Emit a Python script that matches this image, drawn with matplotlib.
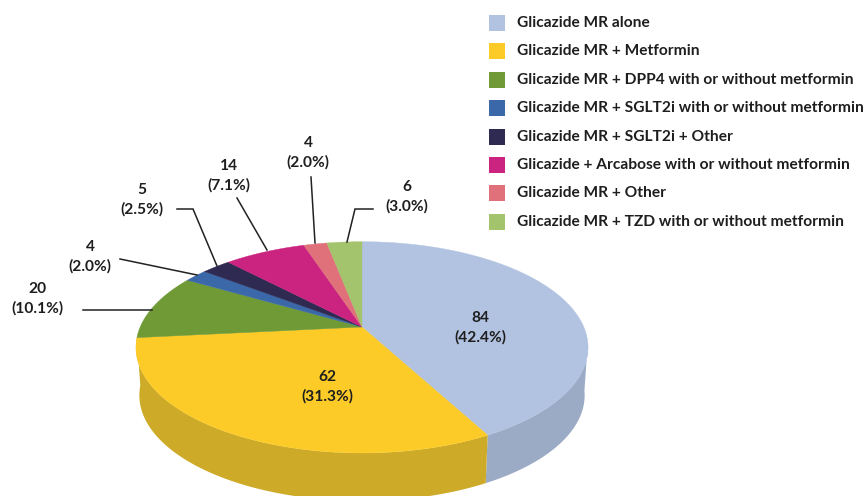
import numpy as np
import matplotlib
matplotlib.use("Agg")
import matplotlib.pyplot as plt

categories = ["Glicazide MR alone", "Glicazide MR + Metformin",
              "Glicazide MR + DPP4 with or without metformin",
              "Glicazide MR + SGLT2i with or without metformin",
              "Glicazide MR + SGLT2i + Other",
              "Glicazide + Arcabose with or without metformin",
              "Glicazide MR + Other",
              "Glicazide MR + TZD with or without metformin"]
counts = [84, 62, 20, 4, 5, 14, 4, 6]
percents = ["42.4", "31.3", "10.1", "2.0", "2.5", "7.1", "2.0", "3.0"]
colors = ["#B1C3E1", "#FDCB27", "#6F9A36", "#3B68A8", "#2F2A52", "#CB2380", "#E0707A", "#A3C36C"]
side_colors = ["#9BABC6", "#CDAB28"]

label_pos = [(480, 327.5), (327, 386.5), (37, 298.5), (90, 256.5), (142, 199.5),
             (229, 175.5), (308, 153), (407, 196.5)]
leaders = [None, None,
           [(83, 309.5), (152, 309.5)],
           [(120, 259), (197, 275)],
           [(177, 209), (193, 209), (217, 266)],
           [(237, 198), (267, 250)],
           [(311, 177), (315, 243)],
           [(373, 209), (355, 209), (347, 242)]]
legend_y = [23, 51, 80, 108, 137, 165, 193, 222]

FONT = "Lato"
CX, CY, RX, RY, K = 362.0, 327.0, 221.8, 101.7, 0.1926
DEPTH = 48.0
BOTTOM_SCALE = 0.985

def rim(a):
    u, v = np.sin(a), np.cos(a)
    w = 1 + K * v
    return CX + RX * u / w, CY - RY * v / w

fig = plt.figure(figsize=(8.67, 4.96), dpi=100, facecolor="white")
ax = fig.add_axes([0, 0, 1, 1])
ax.set_xlim(0, 867)
ax.set_ylim(496, 0)
ax.axis("off")

edges = np.cumsum([0] + counts) / sum(counts) * 2 * np.pi

# side walls: light-blue and yellow slices face the viewer
for i, c in zip([0, 1], side_colors):
    a = np.linspace(max(edges[i], np.pi / 2 + 0.15), min(edges[i + 1], 3 * np.pi / 2 + 0.12), 200)
    x, y = rim(a)
    xb = CX + (x - CX) * BOTTOM_SCALE
    yb = y + DEPTH
    ax.fill(np.r_[x, xb[::-1]], np.r_[y, yb[::-1]], color=c, lw=0, zorder=1)

# top face
for i, c in enumerate(colors):
    a = np.linspace(edges[i], edges[i + 1], 120)
    x, y = rim(a)
    ax.fill(np.r_[CX, x], np.r_[CY, y], facecolor=c, edgecolor=c, lw=0.3, zorder=2)

# data labels and leaders
for cnt, pct, (lx, ly), ld in zip(counts, percents, label_pos, leaders):
    ax.text(lx, ly, f"{cnt}\n({pct}%)", ha="center", va="center", fontsize=11.2,
            fontweight="bold", family=FONT, color="#1E1E1E", linespacing=1.45, zorder=4)
    if ld:
        ax.plot(*zip(*ld), color="#222222", lw=1.1, zorder=3, solid_joinstyle="miter")

# legend
for name, c, y in zip(categories, colors, legend_y):
    ax.add_patch(plt.Rectangle((488.5, y - 8), 16, 16, facecolor=c, edgecolor="none", zorder=3))
    ax.text(517, y, name, ha="left", va="center", fontsize=11.15, fontweight="bold",
            family=FONT, color="#1E1E1E", zorder=4)

fig.savefig("out.png", dpi=100)
